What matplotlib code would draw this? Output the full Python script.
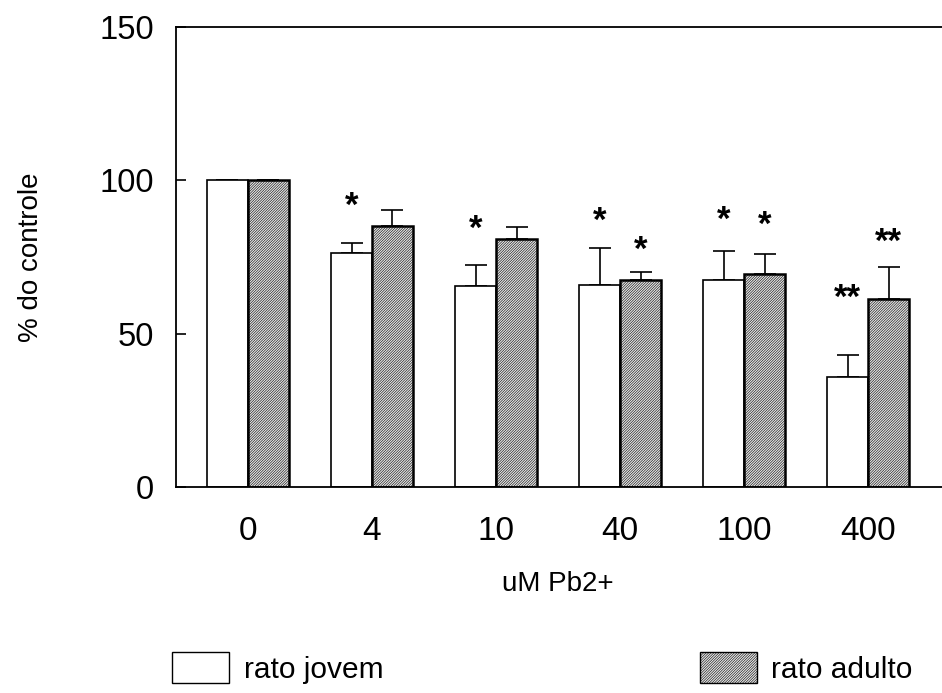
import matplotlib
matplotlib.use("Agg")
import matplotlib.pyplot as plt
import numpy as np
from matplotlib.patches import Patch

categories = ["0", "4", "10", "40", "100", "400"]
jovem = [100, 76.3, 65.5, 65.9, 67.5, 36.0]
jovem_err = [0, 3.4, 6.9, 11.9, 9.5, 7.0]
adulto = [100, 85.2, 81.0, 67.5, 69.6, 61.4]
adulto_err = [0, 5.0, 3.7, 2.5, 6.4, 10.4]
stars_jovem = ["", "*", "*", "*", "*", "**"]
stars_jovem_y = [0, 94.2, 86.7, 89.3, 89.7, 64.2]
stars_adulto = ["", "", "", "*", "*", "**"]
stars_adulto_y = [0, 0, 0, 79.9, 88.0, 82.5]

plt.rcParams['font.family'] = ['Liberation Sans', 'DejaVu Sans']
plt.rcParams['hatch.linewidth'] = 0.4

fig = plt.figure(figsize=(9.42, 6.93), dpi=100)
ax = fig.add_axes([176/942, 1-487/693, 1.0 - 176/942 + 0.01, (487-27)/693])

x = np.arange(len(categories))
w = 0.33
hatch = '/' * 13
gray = '#e4e4e4'
ax.bar(x - w/2, jovem, w, color='white', edgecolor='black', linewidth=1.2, zorder=2)
ax.bar(x + w/2, adulto, w, color=gray, edgecolor='black', linewidth=1.8,
       hatch=hatch, zorder=2)
ax.errorbar(x - w/2, jovem, yerr=[np.zeros(len(x)), jovem_err], fmt='none',
            ecolor='black', elinewidth=1.2, capsize=8, capthick=1.2, zorder=1)
ax.errorbar(x + w/2, adulto, yerr=[np.zeros(len(x)), adulto_err], fmt='none',
            ecolor='black', elinewidth=1.2, capsize=8, capthick=1.2, zorder=1)

for i in range(len(x)):
    if stars_jovem[i]:
        ax.annotate(stars_jovem[i], (x[i] - w/2, stars_jovem_y[i]), xytext=(0, -8),
                    textcoords='offset pixels', ha='center', va='center',
                    fontsize=25, fontweight='bold')
    if stars_adulto[i]:
        ax.annotate(stars_adulto[i], (x[i] + w/2, stars_adulto_y[i]), xytext=(0, -8),
                    textcoords='offset pixels', ha='center', va='center',
                    fontsize=25, fontweight='bold')

ax.set_xlim(-0.58, 5.59 + 0.08)
ax.set_ylim(0, 150)
ax.set_yticks([0, 50, 100, 150])
ax.set_xticks(x)
ax.set_xticklabels(categories)
ax.tick_params(axis='y', direction='in', length=7, width=1.2, labelsize=23.5, pad=16)
ax.tick_params(axis='x', length=0, labelsize=24, pad=21)
ax.spines['right'].set_visible(False)
for s in ['left', 'top', 'bottom']:
    ax.spines[s].set_linewidth(1.3)

ax.set_xlabel("uM Pb2+", fontsize=20)
ax.set_ylabel("% do controle", fontsize=20, labelpad=40)
ax.xaxis.set_label_coords((558-176)/(942-176+9.4), -0.183)

handles = [Patch(facecolor='white', edgecolor='black', linewidth=1.0, label='rato jovem'),
           Patch(facecolor=gray, edgecolor='black', linewidth=1.0, hatch=hatch,
                 label='rato adulto')]
fig.legend(handles=handles, loc='lower left', bbox_to_anchor=(172/942, 0.0137), ncol=2,
           frameon=False, fontsize=21.5, handlelength=1.9, handleheight=1.2,
           handletextpad=0.5, columnspacing=10.6, borderaxespad=0, borderpad=0)

fig.savefig("out.png", dpi=100)
